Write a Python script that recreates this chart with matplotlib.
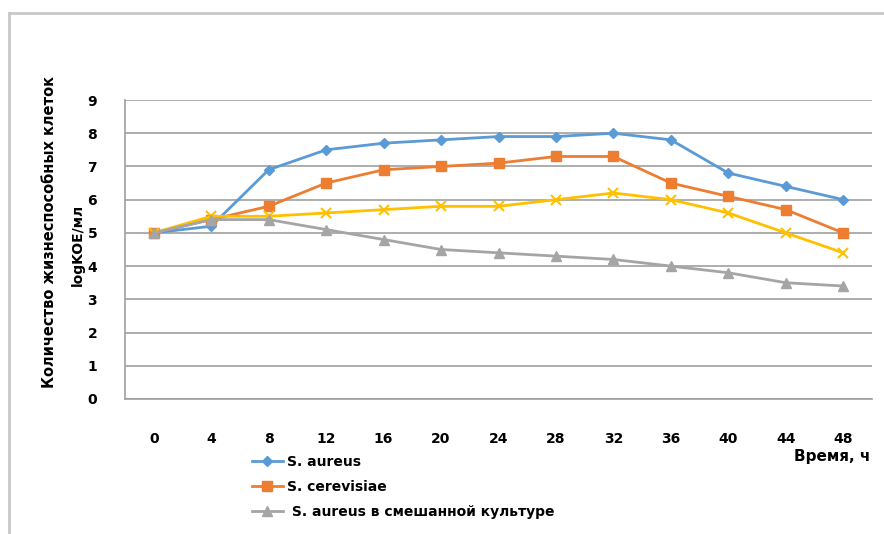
import matplotlib.pyplot as plt
from matplotlib.lines import Line2D
import numpy as np

# data
hours = ["0", "4", "8", "12", "16", "20", "24", "28", "32", "36", "40", "44", "48"]
s_aureus = [5.0, 5.2, 6.9, 7.5, 7.7, 7.8, 7.9, 7.9, 8.0, 7.8, 6.8, 6.4, 6.0]
s_cerevisiae = [5.0, 5.4, 5.8, 6.5, 6.9, 7.0, 7.1, 7.3, 7.3, 6.5, 6.1, 5.7, 5.0]
s_cerevisiae_mix = [5.0, 5.5, 5.5, 5.6, 5.7, 5.8, 5.8, 6.0, 6.2, 6.0, 5.6, 5.0, 4.4]
s_aureus_mix = [5.0, 5.4, 5.4, 5.1, 4.8, 4.5, 4.4, 4.3, 4.2, 4.0, 3.8, 3.5, 3.4]

plt.rcParams['font.family'] = ['DejaVu Sans']
plt.rcParams['font.weight'] = 'bold'

W, H = 884, 534
fig = plt.figure(figsize=(W / 100, H / 100), dpi=100)

# outer frame of the chart area
fig.add_artist(plt.Line2D([9 / W, 9 / W], [0, 1 - 13 / H], color="#c8c8c8", lw=2))
fig.add_artist(plt.Line2D([9 / W, 1], [1 - 13 / H, 1 - 13 / H], color="#c8c8c8", lw=2))

left, right, top, bottom = 125, 872, 100, 399
ax = fig.add_axes([left / W, 1 - bottom / H, (right - left) / W, (bottom - top) / H])

x = np.arange(len(hours))
ax.plot(x, s_aureus, color="#5b9bd5", marker="D", ms=5, lw=2, label="S. aureus")
ax.plot(x, s_cerevisiae, color="#ed7d31", marker="s", ms=7, lw=2, label="S. cerevisiae")
ax.plot(x, s_cerevisiae_mix, color="#ffc000", marker="x", ms=7, mew=1.5, lw=2)
ax.plot(x, s_aureus_mix, color="#a5a5a5", marker="^", ms=7, lw=2,
        label="S. aureus в смешанной культуре")

ax.set_xlim(-0.5, len(hours) - 0.5)
ax.set_ylim(0, 9)
ax.set_yticks(range(0, 10))
ax.set_xticks(x)
ax.set_xticklabels(hours)
ax.yaxis.grid(True, color="#a0a0a0", lw=1.2)
ax.set_axisbelow(True)
for s in ["top", "right"]:
    ax.spines[s].set_visible(False)
for s in ["left", "bottom"]:
    ax.spines[s].set_color("#a0a0a0")
    ax.spines[s].set_linewidth(1.2)
ax.tick_params(length=0, labelsize=10)
ax.tick_params(axis="x", pad=24)
ax.tick_params(axis="y", pad=20)

fig.text(50 / W, 1 - 232 / H, "Количество жизнеспособных клеток", rotation=90,
         ha="center", va="center", fontsize=10.5, fontweight="bold")
fig.text(78 / W, 1 - 245 / H, "logKOE/мл", rotation=90,
         ha="center", va="center", fontsize=10, fontweight="bold")
fig.text(870 / W, 1 - 456 / H, "Время, ч", ha="right", va="center",
         fontsize=11, fontweight="bold")

handles = [
    Line2D([], [], color="#5b9bd5", marker="D", ms=5, lw=2),
    Line2D([], [], color="#ed7d31", marker="s", ms=7, lw=2),
    Line2D([], [], color="#a5a5a5", marker="^", ms=7, lw=2),
]
labels = ["S. aureus", "S. cerevisiae", " S. aureus в смешанной культуре"]
fig.legend(handles, labels, loc="upper left", bbox_to_anchor=(252 / W, 1 - 455 / H),
           frameon=False, fontsize=10, handlelength=2.2, handletextpad=0.3,
           labelspacing=0.8, borderaxespad=0, borderpad=0)

fig.savefig("out.png", dpi=100)
